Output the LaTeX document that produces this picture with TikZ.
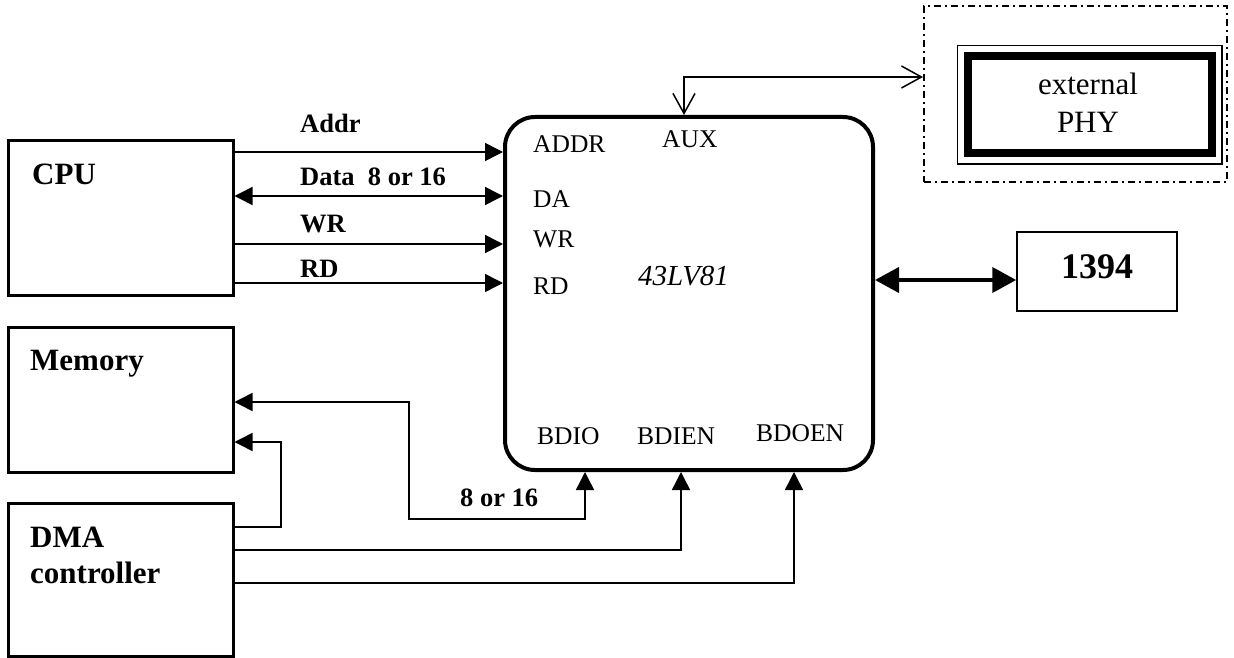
\documentclass[tikz,border=0pt]{standalone}
\usepackage{fontspec}
\setmainfont{Liberation Serif}
\usepackage{tikz}
\usetikzlibrary{shapes}
\usetikzlibrary{arrows.meta}

\begin{document}
\begin{tikzpicture}[x=1pt,y=-1pt]
    \tikzstyle{block}=[draw,rectangle,line width=3pt,inner sep=0pt]
    \tikzstyle{title}=[anchor=base west,inner sep=0pt,font=\fontsize{31pt}{36pt}\selectfont\bfseries]
    \tikzstyle{port}=[anchor=base west,inner sep=0pt,font=\fontsize{25.5pt}{30pt}\selectfont]
    \tikzstyle{bus}=[anchor=base west,inner sep=0pt,font=\fontsize{26.5pt}{30pt}\selectfont\bfseries]
    \tikzstyle{phytext}=[anchor=base,inner sep=0pt,font=\fontsize{31pt}{36pt}\selectfont]
    \tikzstyle{sig}=[line width=1.5pt,>={Triangle[length=18pt,width=18pt]},->]
    \useasboundingbox (0,0) rectangle (1234,658);
    \node[block,minimum width=225pt,minimum height=154pt] (cpu) at (120.5,218) {};
    \node[block,minimum width=225pt,minimum height=145pt] (mem) at (120.5,399.5) {};
    \node[block,minimum width=225pt,minimum height=153pt] (dma) at (120.5,579.5) {};
    \node[draw,rectangle,rounded corners=30pt,line width=4pt,minimum width=368pt,minimum height=353pt] (chip) at (689,293.5) {};
    \node[draw,rectangle,line width=1.5pt,minimum width=160pt,minimum height=79pt] (bus1394) at (1097,271.5) {};
    \node[draw,rectangle,line width=2pt,dash pattern=on 7pt off 4pt on 2pt off 4pt,minimum width=303pt,minimum height=176pt] (extbox) at (1075.5,94) {};
    \node[draw,rectangle,line width=8pt,minimum width=243.5pt,minimum height=97.5pt] (phy) at (1089.75,104.75) {};
    \draw[line width=1.5pt] ([shift={(-6.5pt,6.5pt)}]phy.north west) rectangle ([shift={(6.5pt,-6.5pt)}]phy.south east);
    \node[title] (cpuname) at (32,184) {CPU};
    \node[title] (memname) at (30,370) {Memory};
    \node[title] (dmaname) at (30,547) {DMA};
    \node[title] (dmaname2) at (30,583) {controller};
    \node[port] (paddr) at (533,153) {ADDR};
    \node[port] (paux) at (662,147) {AUX};
    \node[port] (pda) at (533,207) {DA};
    \node[port] (pwr) at (533,247) {WR};
    \node[port] (prd) at (533,294) {RD};
    \node[port] (pbdio) at (537,444) {BDIO};
    \node[port] (pbdien) at (637,444) {BDIEN};
    \node[port] (pbdoen) at (756,441) {BDOEN};
    \node[anchor=base west,inner sep=0pt,font=\fontsize{29pt}{34pt}\selectfont\itshape] (chipname) at (638,285) {43LV81};
    \node[phytext] (phyname) at (1088,95) {external};
    \node[phytext] (phyname2) at (1088,133) {PHY};
    \node[anchor=base,inner sep=0pt,font=\fontsize{36pt}{42pt}\selectfont\bfseries] (name1394) at (1097,278) {1394};
    \node[bus] (laddr) at (300,133) {Addr};
    \node[bus] (ldata) at (300,185) {Data~~8 or 16};
    \node[bus] (lwr) at (300,232) {WR};
    \node[bus] (lrd) at (300,277) {RD};
    \node[bus] (lbdio) at (460,506) {8 or 16};
    \draw[sig] (cpu.east |- 0,152) -- (chip.west |- 0,152);
    \draw[sig,<->] (cpu.east |- 0,196) -- (chip.west |- 0,196);
    \draw[sig] (cpu.east |- 0,244) -- (chip.west |- 0,244);
    \draw[sig] (cpu.east |- 0,283) -- (chip.west |- 0,283);
    \draw[sig,<->] (mem.east |- 0,402) -- (409,402) -- (409,519) -| (chip.south -| 585,0);
    \draw[sig] (dma.east |- 0,527) -| (281,442) -- (mem.east |- 0,442);
    \draw[sig] (dma.east |- 0,550) -| (chip.south -| 681,0);
    \draw[sig] (dma.east |- 0,583) -| (chip.south -| 794,0);
    \draw[line width=1.5pt,{Straight Barb[length=20pt,width=22pt]}-{Straight Barb[length=20pt,width=22pt]}] (chip.north -| 684,0) |- (extbox.west |- 0,77);
    \draw[line width=4pt,>={Triangle[length=24pt,width=25pt]},<->] (chip.east |- 0,280) -- (bus1394.west |- 0,280);
\end{tikzpicture}
\end{document}
